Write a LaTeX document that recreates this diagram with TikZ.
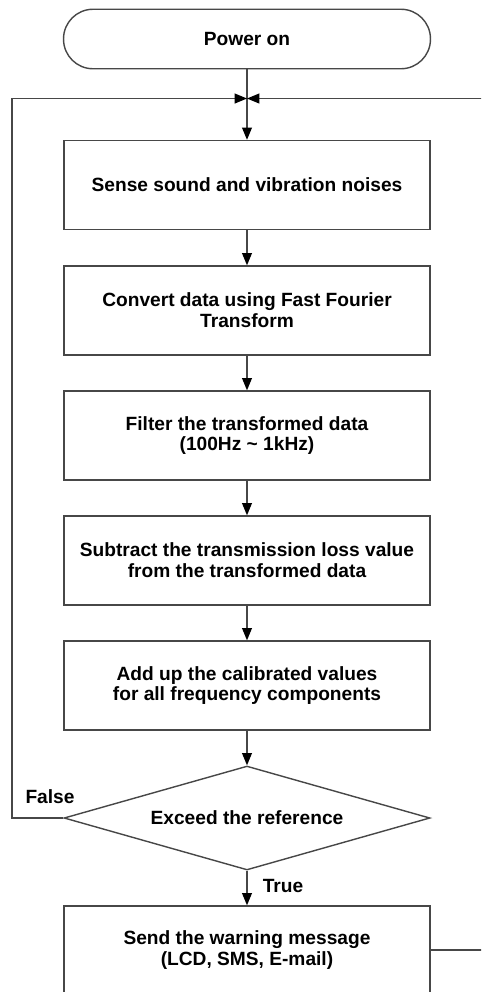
\documentclass[tikz,border=0pt]{standalone}
\usepackage{fontspec}
\setmainfont{Liberation Sans}
\usetikzlibrary{arrows.meta,shapes.geometric}

\begin{document}
\begin{tikzpicture}[
  x=0.02cm, y=-0.02cm,
  font=\bfseries\fontsize{10.9}{11.8}\selectfont,
  line/.style={draw=black!72, line width=0.8pt},
  flow/.style={line, -{Triangle[length=7pt, width=5.6pt, color=black]}},
  terminal/.style={line, rectangle, rounded corners=0.59cm, minimum width=7.34cm, minimum height=1.19cm},
  process/.style={line, rectangle, align=center, minimum width=7.32cm, minimum height=1.78cm, inner sep=0pt},
  decision/.style={line, diamond, aspect=3.5, minimum width=7.32cm, minimum height=2.08cm, inner sep=0pt},
  tag/.style={inner sep=0pt}
]

  \useasboundingbox (0,0) rectangle (481,992);
  \clip (0,0) rectangle (481,992);

  % Start
  \node[terminal] (power) at (247,39) {Power on};
  \coordinate (join) at (247,98.5);

  % Processing steps
  \node[process] (sense) at (247,185) {Sense sound and vibration noises};
  \node[process] (fft) at (247,310.5) {Convert data using Fast Fourier\\Transform};
  \node[process] (filter) at (247,435.5) {Filter the transformed data\\(100Hz \textasciitilde{} 1kHz)};
  \node[process] (subtract) at (247,560.5) {Subtract the transmission loss value\\from the transformed data};
  \node[process] (sum) at (247,685.5) {Add up the calibrated values\\for all frequency components};

  % Decision
  \node[decision] (check) at (247,818) {Exceed the reference};
  \node[tag] (false) at (50,797) {False};
  \node[tag] (true) at (283,886) {True};

  % Warning
  \node[process, minimum height=1.76cm] (warn) at (247,950) {Send the warning message\\(LCD, SMS, E-mail)};

  % Main flow
  \draw[flow] (power) -- (sense);
  \draw[flow] (sense) -- (fft);
  \draw[flow] (fft) -- (filter);
  \draw[flow] (filter) -- (subtract);
  \draw[flow] (subtract) -- (sum);
  \draw[flow] (sum) -- (check);
  \draw[flow] (check) -- (warn);

  % Loops back to the top
  \draw[flow] (check.west) -| (12,98.5) -- (join);
  \draw[flow] (warn.east) -| (500,98.5) -- (join);

\end{tikzpicture}
\end{document}
